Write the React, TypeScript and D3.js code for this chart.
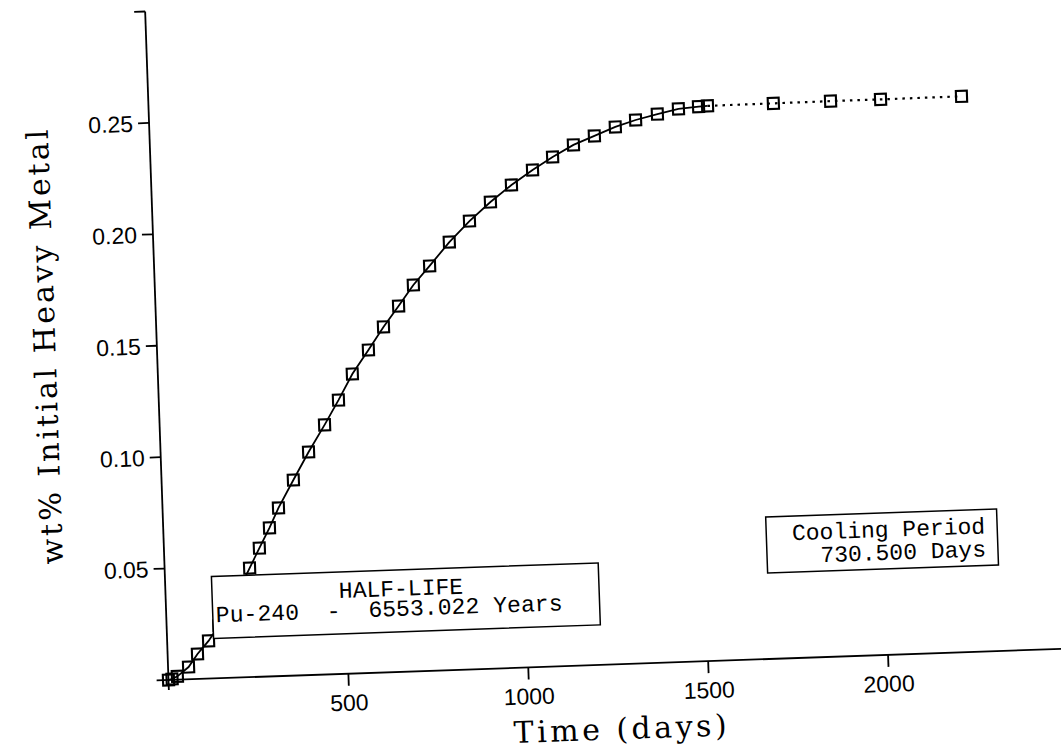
import React from "react";
import * as d3 from "d3";

// ---- data ----
const irradDays = [0, 10, 25, 57, 83, 115, 145, 176, 206, 236, 265, 295, 322, 366, 411, 458, 499, 540, 587, 631, 675, 718, 765, 822, 880, 940, 1000, 1060, 1117, 1176, 1235, 1294, 1351, 1412, 1471, 1527, 1552];
const irradValues = [0, 0.0004, 0.0015, 0.0055, 0.0112, 0.0169, 0.0236, 0.0313, 0.0397, 0.0489, 0.0577, 0.0666, 0.0754, 0.0877, 0.1, 0.1119, 0.1228, 0.1343, 0.1448, 0.1549, 0.164, 0.1732, 0.1815, 0.1919, 0.201, 0.2092, 0.2165, 0.2229, 0.2284, 0.2335, 0.2372, 0.2409, 0.2437, 0.246, 0.248, 0.2487, 0.2489];
const coolDays = [1552, 1735, 1894, 2033, 2258];
const coolValues = [0.2489, 0.249, 0.2491, 0.2491, 0.2492];
const xTicks = [500, 1000, 1500, 2000];
const yTicks = [0.05, 0.1, 0.15, 0.2, 0.25, 0.3];
const yTickLabels = ["0.05", "0.10", "0.15", "0.20", "0.25", ""];
const xTitle = "Time (days)";
const yTitle = "wt% Initial Heavy Metal";
const box1Lines = ["HALF-LIFE", "Pu-240  -  6553.022 Years"];
const box2Lines = ["Cooling Period", "730.500 Days"];

const W = 1061;
const H = 749;
const OX = 168.5;
const OY = 680;

export default function App() {
  const x = d3.scaleLinear().domain([0, 2500]).range([OX, OX + 900]);
  const y = d3.scaleLinear().domain([0, 0.3]).range([OY, OY - 668.9]);
  const line = d3
    .line<[number, number]>()
    .x((d) => x(d[0]))
    .y((d) => y(d[1]));
  const irr: [number, number][] = irradDays.map((d, i) => [d, irradValues[i]]);
  const cool: [number, number][] = coolDays.map((d, i) => [d, coolValues[i]]);
  const all = irr.concat(cool.slice(1));
  const tickFont = "'Liberation Sans', Arial, sans-serif";
  const titleFont = "'DejaVu Serif', serif";
  const monoFont = "'Liberation Mono', 'DejaVu Sans Mono', monospace";
  const ms = 11;

  return (
    <svg width={W} height={H} style={{ position: "absolute", left: 0, top: 0, background: "#fff" }}>
      <rect x={0} y={0} width={W} height={H} fill="#fff" />
      <g transform={`rotate(-2, ${OX}, ${OY})`}>
        {/* axes */}
        <line x1={x(-33)} x2={x(2650)} y1={OY} y2={OY} stroke="#000" strokeWidth={1.8} />
        <line x1={OX} x2={OX} y1={y(-0.0045)} y2={y(0.3)} stroke="#000" strokeWidth={1.8} />
        {yTicks.map((t, i) => (
          <g key={"yt" + t}>
            <line x1={OX - 11} x2={OX} y1={y(t)} y2={y(t)} stroke="#000" strokeWidth={1.8} />
            <text x={OX - 16} y={y(t)} dy="0.36em" textAnchor="end" fontFamily={tickFont} fontSize={23} fill="#000">
              {yTickLabels[i]}
            </text>
          </g>
        ))}
        {xTicks.map((t) => (
          <g key={"xt" + t}>
            <line x1={x(t)} x2={x(t)} y1={OY} y2={OY + 12} stroke="#000" strokeWidth={1.8} />
            <text x={x(t)} y={OY + 37} textAnchor="middle" fontFamily={tickFont} fontSize={23} fill="#000">
              {t}
            </text>
          </g>
        ))}
        {/* titles */}
        <text x={511.6} y={755} fontFamily={titleFont} fontSize={30} textLength={213} lengthAdjust="spacing" fill="#000">
          {xTitle}
        </text>
        <text
          transform={`translate(67, 343) rotate(-90)`}
          textAnchor="middle"
          fontFamily={titleFont}
          fontSize={30}
          textLength={435}
          lengthAdjust="spacing"
          fill="#000"
        >
          {yTitle}
        </text>
        {/* series */}
        <path d={line(irr) || ""} fill="none" stroke="#000" strokeWidth={1.8} />
        <path d={line(cool) || ""} fill="none" stroke="#000" strokeWidth={2.2} strokeDasharray="2.5 5" />
        {all.map((d, i) => (
          <rect
            key={"m" + i}
            x={x(d[0]) - ms / 2}
            y={y(d[1]) - ms / 2}
            width={ms}
            height={ms}
            fill="none"
            stroke="#000"
            strokeWidth={2.1}
          />
        ))}
        {/* annotation boxes */}
        <rect x={215} y={578} width={387} height={62} fill="#fff" stroke="#000" strokeWidth={1.5} />
        <text x={404} y={604} textAnchor="middle" fontFamily={monoFont} fontSize={23} fill="#000">
          {box1Lines[0]}
        </text>
        <text x={218} y={624} fontFamily={monoFont} fontSize={23} textLength={347} lengthAdjust="spacing" fill="#000" style={{ whiteSpace: "pre" }}>
          {box1Lines[1]}
        </text>
        <rect x={771} y={538} width={231} height={56} fill="#fff" stroke="#000" strokeWidth={1.5} />
        <text x={990} y={562} textAnchor="end" fontFamily={monoFont} fontSize={23} fill="#000">
          {box2Lines[0]}
        </text>
        <text x={990} y={585} textAnchor="end" fontFamily={monoFont} fontSize={23} fill="#000">
          {box2Lines[1]}
        </text>
      </g>
    </svg>
  );
}
